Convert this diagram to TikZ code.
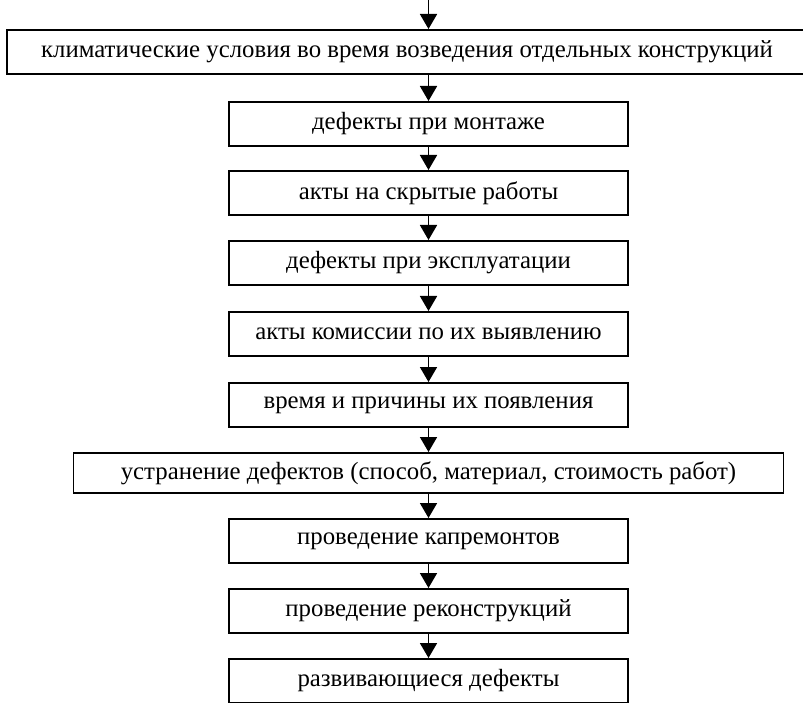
\documentclass[tikz,border=0pt]{standalone}
\usepackage{fontspec}
\setmainfont{Liberation Serif}
\usetikzlibrary{arrows.meta}
\begin{document}
\begin{tikzpicture}[x=1pt,y=-1pt,
  blk/.style={draw=black,line width=1.6pt,rectangle,inner sep=0pt,
    minimum height=44pt,font=\fontsize{24.8}{28}\selectfont,anchor=north},
  narrow/.style={blk,minimum width=399pt},
  arr/.style={line width=1.8pt,-{Triangle[length=15pt,width=17pt]},shorten <=-1pt}]
\useasboundingbox (0,0) rectangle (803,703);
\clip (0,0) rectangle (803,703);
\fill[white] (0,0) rectangle (803,703);
\coordinate (top) at (428.5,-2);
\node[blk,minimum width=830pt] (b1) at (422,29) {климатические условия во время возведения отдельных конструкций\hspace*{30pt}};
\node[narrow] (b2) at (428.5,101) {дефекты при монтаже};
\node[narrow] (b3) at (428.5,170) {акты на скрытые работы};
\node[narrow] (b4) at (428.5,240) {дефекты при эксплуатации};
\node[narrow] (b5) at (428.5,311) {акты комиссии по их выявлению};
\node[narrow] (b6) at (428.5,382) {время и причины их появления};
\node[blk,minimum width=710pt,minimum height=40pt] (b7) at (428.5,452) {устранение дефектов (способ, материал, стоимость работ)};
\node[narrow] (b8) at (428.5,518) {проведение капремонтов};
\node[narrow] (b9) at (428.5,588) {проведение реконструкций};
\node[narrow] (b10) at (428.5,658) {развивающиеся дефекты};
\draw[arr] (top) -- (top |- b1.north);
\draw[arr] (b2.north |- b1.south) -- (b2.north);
\draw[arr] (b2) -- (b3);
\draw[arr] (b3) -- (b4);
\draw[arr] (b4) -- (b5);
\draw[arr] (b5) -- (b6);
\draw[arr] (b6) -- (b7);
\draw[arr] (b7) -- (b8);
\draw[arr] (b8) -- (b9);
\draw[arr] (b9) -- (b10);
\end{tikzpicture}
\end{document}
